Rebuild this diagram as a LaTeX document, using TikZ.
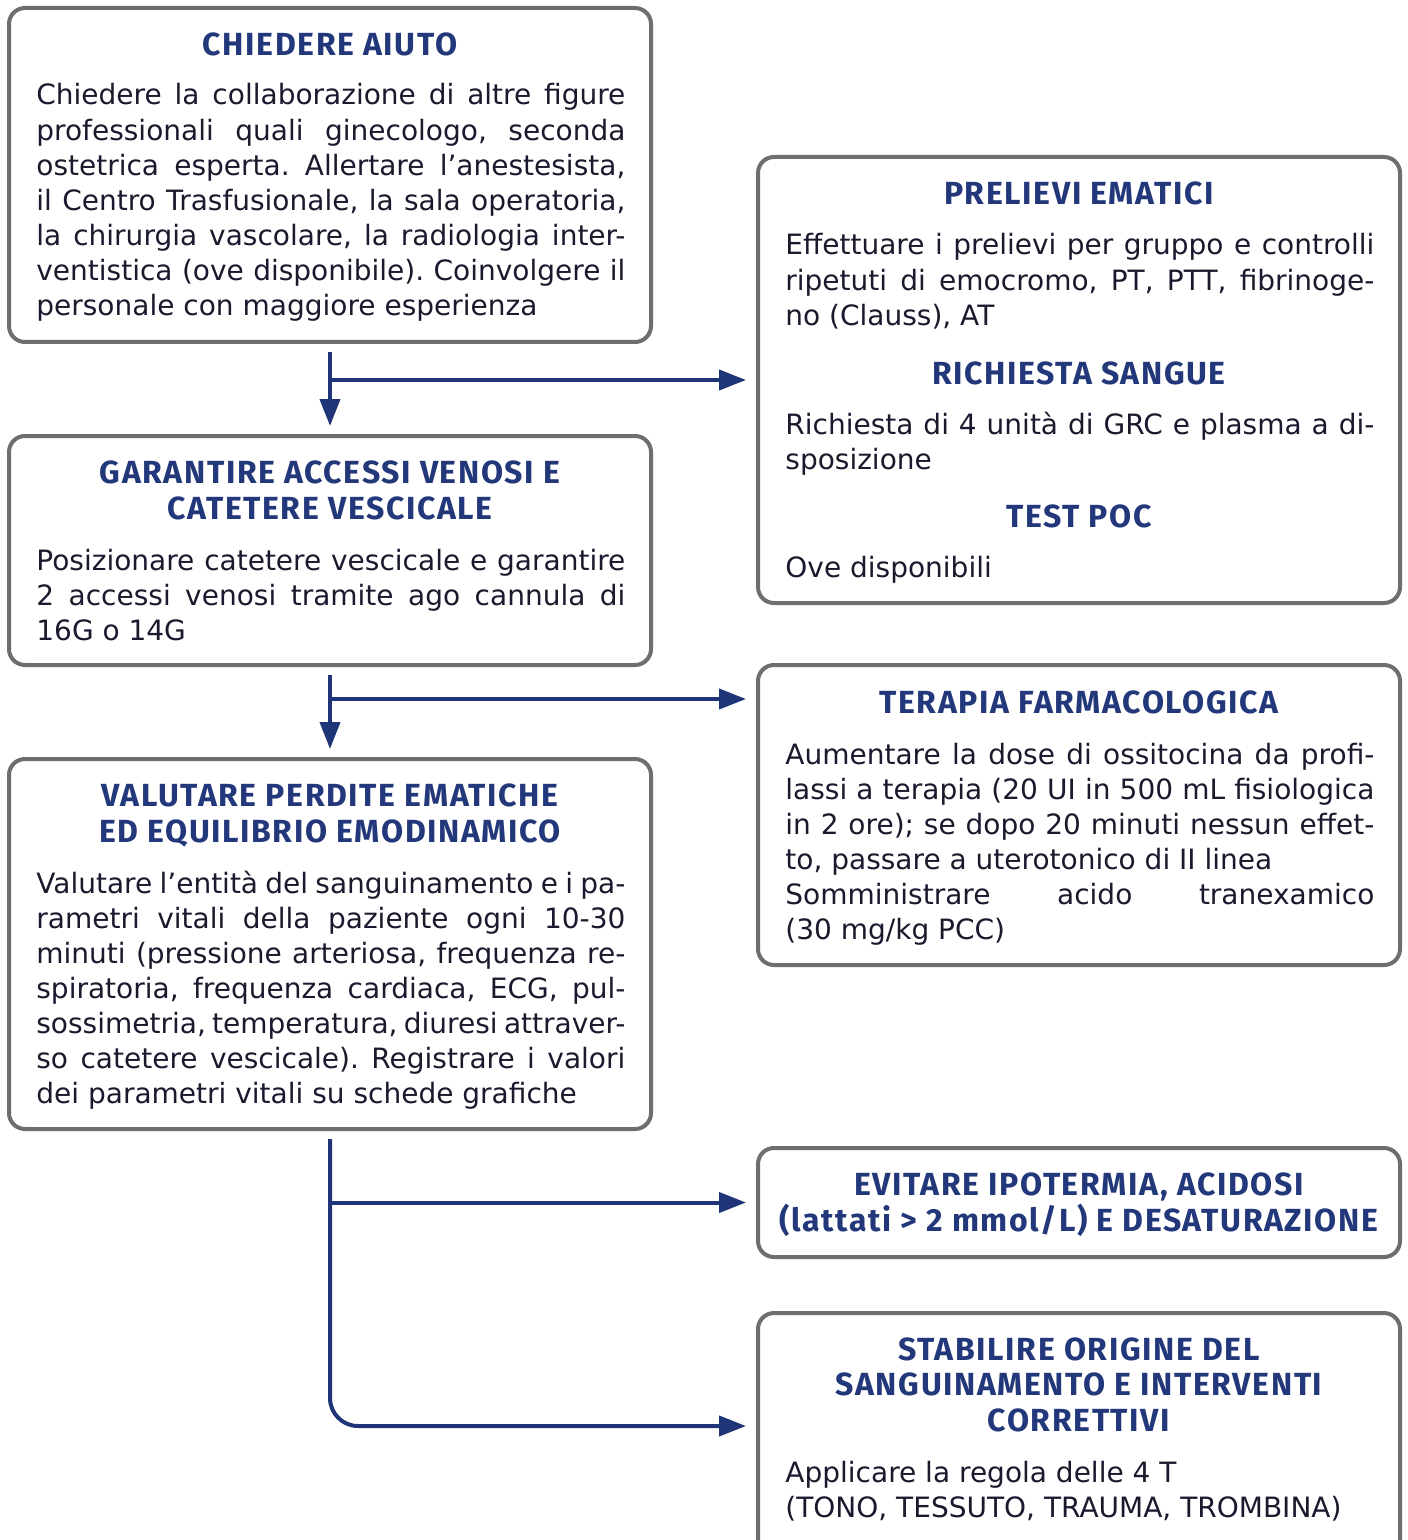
\documentclass[tikz,border=0pt]{standalone}
\usepackage{fontspec}
\setmainfont{DejaVu Sans}
\newfontfamily\headfont{Fira Sans}[LetterSpace=5]
\usetikzlibrary{arrows.meta}
\definecolor{titleblue}{RGB}{35,56,122}
\definecolor{arrowblue}{RGB}{31,53,119}
\definecolor{bordergray}{RGB}{110,110,110}
\definecolor{bodyink}{RGB}{26,26,46}
\frenchspacing
\tikzset{
  box/.style = {draw=bordergray, line width=2pt, rounded corners=8pt,
    fill=white, minimum width=321pt},
  boxtitle/.style = {anchor=base, align=center, inner sep=0pt, text=titleblue,
    font=\headfont\bfseries\fontsize{16}{17.55}\selectfont},% base = last line
  boxbody/.style = {anchor=base west, inner sep=0pt, text width=294.5pt,
    align=justify, text=bodyink, font=\fontsize{14}{17.55}\selectfont},
  flow/.style = {draw=arrowblue, line width=2pt,
    -{Triangle[length=13.5pt,width=10pt]}},
}

\begin{document}
\begin{tikzpicture}[x=0.5pt,y=-0.5pt]
  \path[use as bounding box, fill=white] (0,0) rectangle (1407,1540);

  % left column
  \node[box, minimum height=167pt] (aiuto) at (330,175) {};
  \node[boxtitle] (aiutoT) at (330,56) {CHIEDERE AIUTO};
  \node[boxbody] (aiutoB) at (36,105) {Chiedere la collaborazione di altre figure\linebreak
    professionali quali ginecologo, seconda\linebreak
    ostetrica esperta. Allertare l’anestesista,\linebreak
    il Centro Trasfusionale, la sala operatoria,\linebreak
    la chirurgia vascolare, la radiologia inter-\linebreak
    ventistica (ove disponibile). Coinvolgere il\linebreak
    personale con maggiore esperienza};

  \node[box, minimum height=114.5pt] (accessi) at (330,550.5) {};
  \node[boxtitle] (accessiT) at (330,519) {GARANTIRE ACCESSI VENOSI E\\CATETERE VESCICALE};
  \node[boxbody] (accessiB) at (36,570) {Posizionare catetere vescicale e garantire\linebreak
    2 accessi venosi tramite ago cannula di\linebreak
    16G o 14G};

  \node[box, minimum height=185pt] (valutare) at (330,944) {};
  \node[boxtitle] (valutareT) at (330,842) {VALUTARE PERDITE EMATICHE\\ED EQUILIBRIO EMODINAMICO};
  \node[boxbody] (valutareB) at (36,893) {Valutare l’entità del sanguinamento e i pa-\linebreak
    rametri vitali della paziente ogni 10-30\linebreak
    minuti (pressione arteriosa, frequenza re-\linebreak
    spiratoria, frequenza cardiaca, ECG, pul-\linebreak
    sossimetria, temperatura, diuresi attraver-\linebreak
    so catetere vescicale). Registrare i valori\linebreak
    dei parametri vitali su schede grafiche};

  % right column
  \node[box, minimum height=223pt] (prelievi) at (1079,380) {};
  \node[boxtitle] (prelieviT) at (1079,205) {PRELIEVI EMATICI};
  \node[boxbody] (prelieviB) at (785,255) {Effettuare i prelievi per gruppo e controlli\linebreak
    ripetuti di emocromo, PT, PTT, fibrinoge-\linebreak
    no (Clauss), AT};
  \node[boxtitle] (sangueT) at (1079,384) {RICHIESTA SANGUE};
  \node[boxbody] (sangueB) at (785,434) {Richiesta di 4 unità di GRC e plasma a di-\linebreak
    sposizione};
  \node[boxtitle] (pocT) at (1079,527) {TEST POC};
  \node[boxbody] (pocB) at (785,577) {Ove disponibili};

  \node[box, minimum height=150pt] (farmaco) at (1079,815) {};
  \node[boxtitle] (farmacoT) at (1079,713) {TERAPIA FARMACOLOGICA};
  \node[boxbody] (farmacoB) at (785,764) {Aumentare la dose di ossitocina da profi-\linebreak
    lassi a terapia (20 UI in 500 mL fisiologica\linebreak
    in 2 ore); se dopo 20 minuti nessun effet-\linebreak
    to, passare a uterotonico di II linea\\
    Somministrare acido tranexamico\linebreak
    (30 mg/kg PCC)};

  \node[box, minimum height=54.5pt] (ipotermia) at (1079,1202.5) {};
  \node[boxtitle] (ipotermiaT) at (1079,1231) {EVITARE IPOTERMIA, ACIDOSI\\(lattati > 2 mmol/L) E DESATURAZIONE};

  \node[box, minimum height=123.5pt] (origine) at (1079,1436.5) {};
  \node[boxtitle] (origineT) at (1079,1431) {STABILIRE ORIGINE DEL\\SANGUINAMENTO E INTERVENTI\\CORRETTIVI};
  \node[boxbody] (origineB) at (785,1482) {Applicare la regola delle 4 T\\
    (TONO, TESSUTO, TRAUMA, TROMBINA)};

  % arrows
  \coordinate (farmacoIn) at ([yshift=-18pt]farmaco.north west);
  \coordinate (origineIn) at ([yshift=-57.5pt]origine.north west);

  \draw[flow, shorten <=4pt, shorten >=4pt] (aiuto.south) -- (accessi.north);
  \draw[flow, shorten >=5pt] (aiuto.south |- prelievi.west) -- (prelievi.west);
  \draw[flow, shorten <=4pt, shorten >=4pt] (accessi.south) -- (valutare.north);
  \draw[flow, shorten >=5pt] (accessi.south |- farmacoIn) -- (farmacoIn);
  \draw[flow, shorten >=5pt] (valutare.south |- ipotermia.west) -- (ipotermia.west);
  \draw[flow, shorten <=4pt, shorten >=5pt, rounded corners=14pt] (valutare.south)
    -- (valutare.south |- origineIn) -- (origineIn);
\end{tikzpicture}
\end{document}
